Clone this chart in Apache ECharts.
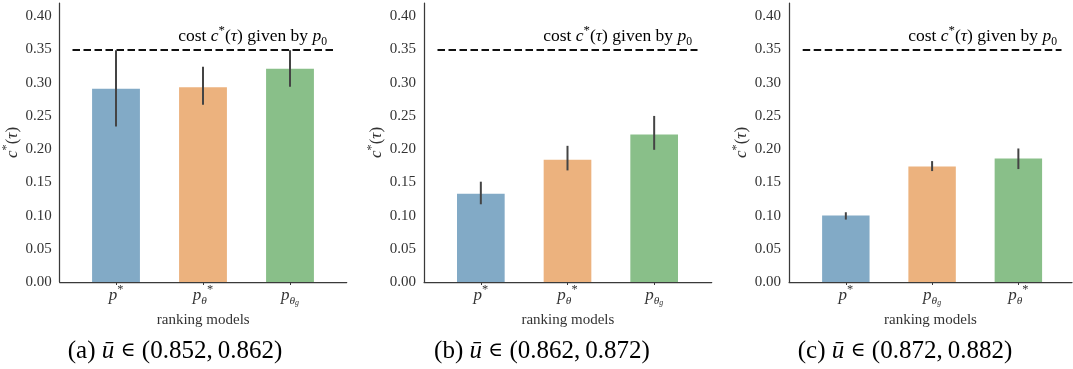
<!DOCTYPE html>
<html><head><meta charset="utf-8">
<script src="https://cdn.jsdelivr.net/npm/echarts@6/dist/echarts.min.js"></script>
<style>html,body{margin:0;padding:0;background:#fff}#c{width:1073px;height:369px}</style>
</head><body><div id="c"></div>
<script>
// ---- data ----
const categoriesA = ['pstar', 'pstar_theta', 'p_theta_g'];
const categoriesB = ['pstar', 'pstar_theta', 'p_theta_g'];
const categoriesC = ['pstar', 'p_theta_g', 'pstar_theta'];
const meanA = [0.291, 0.293, 0.321];
const lowA  = [0.234, 0.267, 0.294];
const highA = [0.349, 0.324, 0.349];
const meanB = [0.133, 0.184, 0.222];
const lowB  = [0.117, 0.168, 0.199];
const highB = [0.151, 0.205, 0.250];
const meanC = [0.100, 0.174, 0.186];
const lowC  = [0.094, 0.167, 0.170];
const highC = [0.105, 0.182, 0.201];
const p0Cost = [0.349, 0.349, 0.349];
const yMin = 0, yMax = 0.42, yStep = 0.05;
const captions = ['(a)', '(b)', '(c)'];
const uRanges = ['(0.852,\u20090.862)', '(0.862,\u20090.872)', '(0.872,\u20090.882)'];
const barColors = ['#82aac6', '#ecb27e', '#89bf89'];

// ---- style / layout ----
const FONT = 'Liberation Serif';
const TXT = '#333';
const FS = 15;
function mkRich(fs) {
  const s = fs / 15;
  return {
    n: {fontFamily: FONT, fontSize: fs, color: TXT, lineHeight: 20 * s},
    i: {fontFamily: FONT, fontSize: fs, fontStyle: 'italic', color: TXT, lineHeight: 20 * s},
    sup: {fontFamily: FONT, fontSize: 11 * s, color: TXT, lineHeight: 16 * s, verticalAlign: 'top'},
    sub: {fontFamily: FONT, fontSize: 10 * s, fontStyle: 'italic', color: TXT, lineHeight: 9 * s, verticalAlign: 'bottom'},
    subsub: {fontFamily: FONT, fontSize: 7 * s, fontStyle: 'italic', color: TXT, lineHeight: 5 * s, verticalAlign: 'bottom'},
    subn: {fontFamily: FONT, fontSize: 10 * s, color: TXT, lineHeight: 9 * s, verticalAlign: 'bottom'}
  };
}
const labelMap = {
  pstar: '{i|p}{sup|*}',
  pstar_theta: '{i|p}{sub|θ}{sup|*}',
  p_theta_g: '{i|p}{sub|θ}{subsub|g}'
};
const panels = [
  {cats: categoriesA, mean: meanA, low: lowA, high: highA, axisL: 59.3, axisR: 346.7, barL: 72.5, barW: 261, capX: 175, legR: 327},
  {cats: categoriesB, mean: meanB, low: lowB, high: highB, axisL: 424, axisR: 711.7, barL: 437.5, barW: 260, capX: 542, legR: 692},
  {cats: categoriesC, mean: meanC, low: lowC, high: highC, axisL: 789, axisR: 1072, barL: 802.7, barW: 258.8, capX: 905, legR: 1057}
];
const TOP = 3, H = 279;
const AX = '#3a3a3a';

const grid = [], xAxis = [], yAxis = [], series = [], graphic = [];
panels.forEach((p, k) => {
  const a = grid.length;
  grid.push({left: p.axisL, top: TOP, width: p.axisR - p.axisL, height: H});
  const b = grid.length;
  grid.push({left: p.barL, top: TOP, width: p.barW, height: H});
  // full-width frame axes
  xAxis.push({gridIndex: a, type: 'value', min: 0, max: 1,
    axisLine: {show: true, lineStyle: {color: AX, width: 1.25}}, axisTick: {show: false},
    axisLabel: {show: false}, splitLine: {show: false},
    name: 'ranking models', nameLocation: 'middle', nameGap: 31,
    nameTextStyle: {fontFamily: FONT, fontSize: FS, color: TXT}});
  yAxis.push({gridIndex: a, type: 'value', min: yMin, max: yMax, interval: yStep,
    axisLine: {show: true, lineStyle: {color: AX, width: 1.25}}, axisTick: {show: false},
    splitLine: {show: false}, axisLabel: {fontFamily: FONT, fontSize: FS, color: TXT, margin: 8,
      showMaxLabel: false, formatter: v => v.toFixed(2)},
    name: '{i|c}{sup|*}{n|(}{i|τ}{n|)}', nameLocation: 'middle', nameRotate: 90, nameGap: 36,
    nameTextStyle: {rich: mkRich(17)}});
  // bar axes
  xAxis.push({gridIndex: b, type: 'category', data: p.cats, boundaryGap: true,
    axisLine: {show: false}, axisTick: {show: true, alignWithLabel: true, length: 3, lineStyle: {color: AX}},
    axisLabel: {interval: 0, margin: 2, formatter: v => labelMap[v], rich: mkRich(17)}, splitLine: {show: false}});
  yAxis.push({gridIndex: b, type: 'value', min: yMin, max: yMax, show: false});
  series.push({type: 'bar', xAxisIndex: b, yAxisIndex: b, barWidth: '55%',
    data: p.mean.map((v, j) => ({value: v, itemStyle: {color: barColors[j]}})),
    markLine: {silent: true, symbol: 'none', label: {show: false},
      lineStyle: {type: [7.5, 3.5], color: '#111', width: 2.2},
      data: [{yAxis: p0Cost[k]}]}});
  series.push({type: 'custom', xAxisIndex: b, yAxisIndex: b, z: 5,
    data: p.cats.map((c, j) => [j, p.low[j], p.high[j]]),
    encode: {x: 0, y: [1, 2]},
    renderItem: (params, api) => {
      const p1 = api.coord([api.value(0), api.value(1)]);
      const p2 = api.coord([api.value(0), api.value(2)]);
      return {type: 'line', shape: {x1: p1[0], y1: p1[1], x2: p2[0], y2: p2[1]},
        style: {stroke: '#444', lineWidth: 2}};
    }});
  graphic.push({type: 'text', x: p.legR, y: 36, style: {
    text: '{n|cost }{i|c}{sup|*}{n|(}{i|τ}{n|) given by }{i|p}{subn|0}',
    rich: mkRich(17.5), align: 'right', verticalAlign: 'middle'}});
  graphic.push({type: 'text', x: p.capX, y: 351, style: {
    text: '{n|' + captions[k] + ' }{i|ū}{e| ∈ }{n|' + uRanges[k] + '}',
    rich: {n: {fontFamily: FONT, fontSize: 25, color: '#000'},
           i: {fontFamily: FONT, fontSize: 25, fontStyle: 'italic', color: '#000'},
           e: {fontFamily: 'DejaVu Serif', fontSize: 20, color: '#000'}},
    align: 'center', verticalAlign: 'middle'}});
});

const chart = echarts.init(document.getElementById('c'), null, {renderer: 'canvas'});
chart.setOption({animation: false, backgroundColor: '#fff', grid, xAxis, yAxis, series, graphic});
</script></body></html>
